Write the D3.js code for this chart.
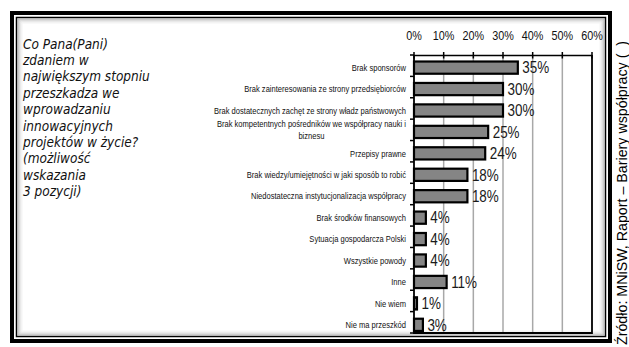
<!DOCTYPE html>
<html>
<head>
<meta charset="utf-8">
<script src="https://cdn.jsdelivr.net/npm/d3@7"></script>
<style>
body { margin: 0; background: #fff; }
svg { display: block; }
</style>
</head>
<body>
<script>
// dane
var categories = [
  "Brak sponsorów",
  "Brak zainteresowania ze strony przedsiębiorców",
  "Brak dostatecznych zachęt ze strony władz państwowych",
  "Brak kompetentnych pośredników we współpracy nauki i|biznesu",
  "Przepisy prawne",
  "Brak wiedzy/umiejętności w jaki sposób to robić",
  "Niedostateczna instytucjonalizacja współpracy",
  "Brak środków finansowych",
  "Sytuacja gospodarcza Polski",
  "Wszystkie powody",
  "Inne",
  "Nie wiem",
  "Nie ma przeszkód"
];
var values = [35, 30, 30, 25, 24, 18, 18, 4, 4, 4, 11, 1, 3];
var tickValues = [0, 10, 20, 30, 40, 50, 60];
var questionLines = [
  "Co Pana(Pani)",
  "zdaniem w",
  "największym stopniu",
  "przeszkadza we",
  "wprowadzaniu",
  "innowacyjnych",
  "projektów w życie?",
  "(możliwość",
  "wskazania",
  "3 pozycji)"
];
var sourceText = "Źródło: MNiSW, Raport – Bariery współpracy (\u00a0\u00a0)";

var sans = "'Liberation Sans', Arial, sans-serif";

// brak kroju "Narrow" - zwężamy tekst ręcznie
function condense(sel, f) {
  sel.each(function () {
    var w = this.getComputedTextLength();
    d3.select(this).attr("textLength", w * f).attr("lengthAdjust", "spacingAndGlyphs");
  });
}

var svg = d3.select("body").append("svg").attr("width", 629).attr("height", 347);

// ramka
svg.append("rect").attr("x", 12).attr("y", 13).attr("width", 598).attr("height", 328)
   .attr("fill", "#fff").attr("stroke", "#000").attr("stroke-width", 4);
svg.append("rect").attr("x", 16.5).attr("y", 17.5).attr("width", 589).attr("height", 319)
   .attr("fill", "none").attr("stroke", "#000").attr("stroke-width", 1.5);
var bevel = ["#a8a8a8", "#c4c4c4", "#d8d8d8", "#e8e8e8", "#f4f4f4"];
bevel.forEach(function (c, i) {
  svg.append("rect").attr("x", 18 + i).attr("y", 19 + i)
     .attr("width", 586 - 2 * i).attr("height", 316 - 2 * i)
     .attr("fill", "none").attr("stroke", c).attr("stroke-width", 1);
});

// pytanie
svg.append("g").selectAll("text")
   .data(questionLines)
   .enter().append("text")
   .attr("x", 23)
   .attr("y", function (d, i) { return 48.5 + i * 16.4; })
   .attr("font-family", "'DejaVu Sans Condensed', 'DejaVu Sans', sans-serif")
   .attr("font-style", "oblique")
   .attr("font-size", 14.5)
   .attr("fill", "#111")
   .text(function (d) { return d; })
   .call(condense, 0.93);

// skale
var x = d3.scaleLinear().domain([0, 60]).range([414, 592]);
var y = d3.scaleBand().domain(categories).range([55, 333])
          .paddingInner(0.43).paddingOuter(0.2).align(0.76);

// siatka
svg.append("g").selectAll("line")
   .data(tickValues.slice(1, -1))
   .enter().append("line")
   .attr("x1", function (d) { return x(d); }).attr("x2", function (d) { return x(d); })
   .attr("y1", 55).attr("y2", 333)
   .attr("stroke", "#a8a8a8").attr("stroke-width", 1.5);

// osie
var axes = svg.append("g").attr("stroke", "#000");
axes.append("line").attr("x1", x(0)).attr("x2", x(60)).attr("y1", 55.5).attr("y2", 55.5).attr("stroke-width", 1.5);
axes.append("line").attr("x1", x(0)).attr("x2", x(60)).attr("y1", 333).attr("y2", 333).attr("stroke-width", 1.8);
axes.append("line").attr("x1", x(0)).attr("x2", x(0)).attr("y1", 55).attr("y2", 334).attr("stroke-width", 1.8);
axes.append("line").attr("x1", x(60)).attr("x2", x(60)).attr("y1", 55).attr("y2", 334).attr("stroke-width", 1.8);
axes.selectAll(".xt").data(tickValues).enter().append("line")
   .attr("x1", function (d) { return x(d); }).attr("x2", function (d) { return x(d); })
   .attr("y1", 52).attr("y2", 58.5).attr("stroke-width", 1.5);
var bounds = d3.range(categories.length + 1).map(function (i) {
  return 55 + i * (278 / categories.length);
});
axes.selectAll(".yt").data(bounds).enter().append("line")
   .attr("x1", x(0) - 4).attr("x2", x(0))
   .attr("y1", function (d) { return d; }).attr("y2", function (d) { return d; })
   .attr("stroke-width", 1.5);

svg.append("g").selectAll("text")
   .data(tickValues)
   .enter().append("text")
   .attr("x", function (d) { return x(d); })
   .attr("y", 40)
   .attr("text-anchor", "middle")
   .attr("font-family", sans)
   .attr("font-size", 13.5)
   .attr("fill", "#111")
   .text(function (d) { return d + "%"; })
   .call(condense, 0.8);

// słupki
svg.append("g").selectAll("rect")
   .data(categories)
   .enter().append("rect")
   .attr("x", x(0))
   .attr("y", function (d) { return y(d); })
   .attr("width", function (d, i) { return x(values[i]) - x(0); })
   .attr("height", y.bandwidth())
   .attr("fill", "#858585")
   .attr("stroke", "#000")
   .attr("stroke-width", 2.2);

svg.append("g").selectAll("text")
   .data(categories)
   .enter().append("text")
   .attr("x", function (d, i) { return x(values[i]) + 4.5; })
   .attr("y", function (d) { return y(d) + y.bandwidth() / 2; })
   .attr("dy", "0.36em")
   .attr("font-family", sans)
   .attr("font-size", 16)
   .attr("fill", "#1a1a1a")
   .text(function (d, i) { return values[i] + "%"; })
   .call(condense, 0.84);

// etykiety kategorii
var lab = svg.append("g").selectAll("text")
   .data(categories)
   .enter().append("text")
   .attr("font-family", sans)
   .attr("font-size", 9)
   .attr("fill", "#111");
lab.each(function (d) {
  var parts = d.split("|");
  var cy = y(d) + y.bandwidth() / 2;
  var t = d3.select(this);
  if (parts.length === 1) {
    t.attr("x", 406).attr("y", cy).attr("dy", "0.35em").attr("text-anchor", "end").text(d);
    condense(t, 0.84);
  } else {
    var first = t.append("tspan").text(parts[0]);
    var w = first.node().getComputedTextLength() * 0.84;
    var mid = 406 - w / 2;
    t.attr("text-anchor", "middle");
    first.attr("x", mid).attr("y", cy - 4.5);
    var second = t.append("tspan").attr("x", mid).attr("y", cy + 7.5).text(parts[1]);
    condense(first, 0.84);
    condense(second, 0.84);
  }
});

// źródło
svg.append("text")
   .attr("transform", "translate(626.5,345) rotate(-90)")
   .attr("font-family", sans)
   .attr("font-size", 15)
   .attr("fill", "#000")
   .text(sourceText)
   .call(condense, 0.95);
</script>
</body>
</html>
